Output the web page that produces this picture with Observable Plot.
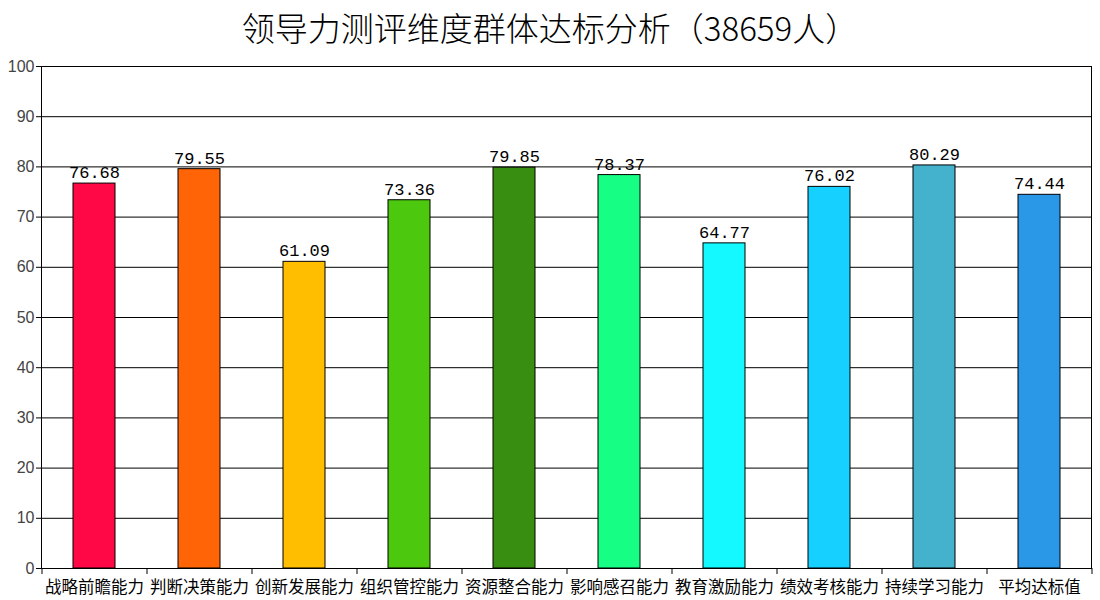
<!DOCTYPE html>
<html><head><meta charset="utf-8">
<script src="https://cdn.jsdelivr.net/npm/d3@7"></script>
<script src="https://cdn.jsdelivr.net/npm/@observablehq/plot@0.6"></script>
<style>
body{margin:0;background:#fff;}
#title{height:50px;line-height:54px;text-align:center;font-family:"Noto Sans CJK SC",sans-serif;font-weight:300;font-size:33px;color:#000;}
</style></head><body>
<div id="title">领导力测评维度群体达标分析（38659人）</div>
<div id="chart"></div>
<script>
const categories = ["战略前瞻能力","判断决策能力","创新发展能力","组织管控能力","资源整合能力","影响感召能力","教育激励能力","绩效考核能力","持续学习能力","平均达标值"];
const values = [76.68,79.55,61.09,73.36,79.85,78.37,64.77,76.02,80.29,74.44];
const colors = ["#FF0845","#FF6407","#FFBE00","#4CC80E","#388E10","#16FF84","#14F8FF","#16D0FF","#44B2CC","#2A98E6"];
const yTicks = [0,10,20,30,40,50,60,70,80,90,100];

const data = categories.map((c,i)=>({cat:c, v:values[i], color:colors[i]}));
const W = 1100, ml = 41, mr = 9;
const band = (W - ml - mr) / categories.length;

const chart = Plot.plot({
  width: W, height: 550,
  marginTop: 16, marginBottom: 32, marginLeft: ml, marginRight: mr,
  style: {background:"#fff"},
  x: {domain: categories, paddingInner: 0.6, paddingOuter: 0.3, align: 0.5, label: null},
  y: {domain: [0,100], label: null},
  marks: [
    Plot.gridY(yTicks, {stroke:"#000", strokeOpacity:1, strokeWidth:1}),
    Plot.barY(data, {x:"cat", y:"v", fill:"color", stroke:"#000", strokeWidth:1}),
    Plot.text(data, {x:"cat", y:"v", text:d=>d.v.toFixed(2), dy:-11, fontSize:17, fontFamily:"Liberation Mono, monospace", fill:"#000"}),
    Plot.axisY({ticks:yTicks, tickSize:5, tickPadding:2, fontSize:16, fontFamily:"Liberation Sans, Arial, sans-serif", fill:"#444", label:null}),
    Plot.axisX({tickSize:6, tickFormat:null, dx:-band/2, stroke:"#000"}),
    Plot.axisX([categories[categories.length-1]], {tickSize:6, tickFormat:null, dx:band/2, stroke:"#000"}),
    Plot.axisX({tickSize:0, tickPadding:13, fontSize:16.5, fontFamily:"Noto Sans CJK SC, sans-serif", fill:"#000", label:null}),
    Plot.frame({stroke:"#000"})
  ]
});
document.getElementById("chart").appendChild(chart);
</script>
</body></html>
